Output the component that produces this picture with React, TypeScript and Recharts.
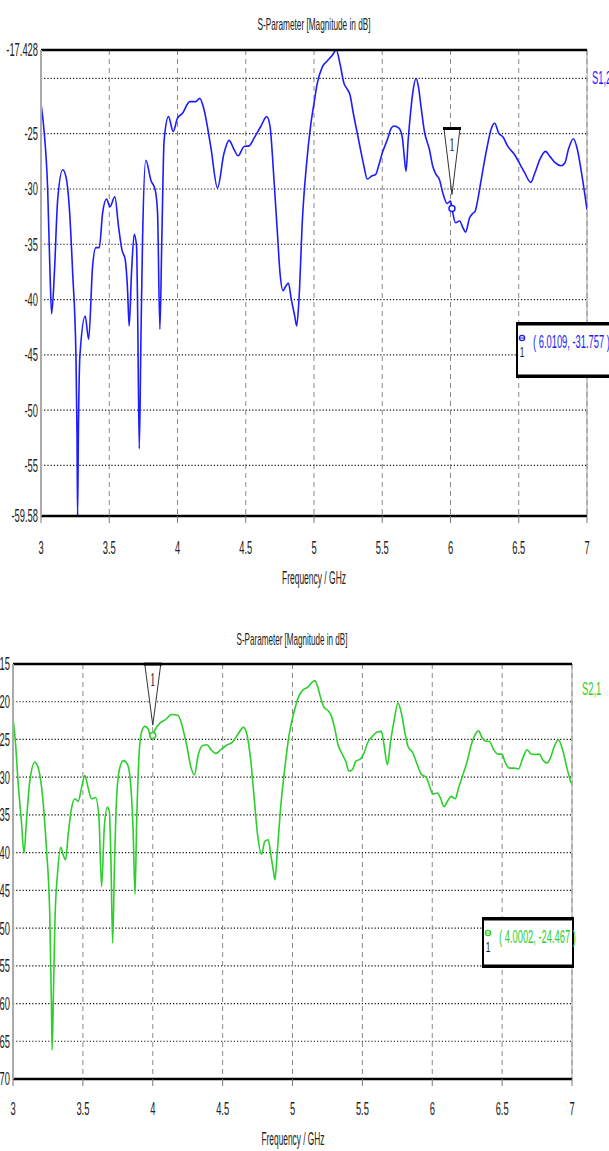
import { LineChart, Line, XAxis, YAxis, CartesianGrid, ReferenceLine, ReferenceDot } from 'recharts';

const FONT = "'Liberation Sans', Arial, sans-serif";
const BLUE = '#1c1cff';
const GREEN = '#2ccf2c';
const SQUEEZE = 0.52; // the source picture is squashed horizontally

const freqTicks = [3, 3.5, 4, 4.5, 5, 5.5, 6, 6.5, 7];

// S1,2 trace (GHz, dB)
const s12Freq = [
  3.000, 3.024, 3.049, 3.066, 3.078, 3.098, 3.122, 3.159, 3.183, 3.207, 3.232, 3.256, 3.264, 3.268, 3.274, 3.285,
  3.324, 3.349, 3.378, 3.402, 3.427, 3.451, 3.480, 3.505, 3.541, 3.568, 3.593, 3.617, 3.634, 3.646, 3.663, 3.683,
  3.700, 3.707, 3.720, 3.732, 3.744, 3.768, 3.805, 3.837, 3.854, 3.871, 3.885, 3.902, 3.934, 3.968, 4.000, 4.037,
  4.090, 4.134, 4.163, 4.195, 4.244, 4.293, 4.341, 4.378, 4.415, 4.444, 4.488, 4.524, 4.561, 4.610, 4.654, 4.678,
  4.707, 4.732, 4.751, 4.773, 4.793, 4.812, 4.834, 4.859, 4.873, 4.890, 4.915, 4.946, 4.976, 5.000, 5.024, 5.061,
  5.098, 5.134, 5.163, 5.190, 5.220, 5.240, 5.264, 5.288, 5.317, 5.341, 5.366, 5.390, 5.427, 5.451, 5.476, 5.500,
  5.537, 5.566, 5.585, 5.622, 5.646, 5.659, 5.674, 5.690, 5.707, 5.723, 5.748, 5.765, 5.784, 5.809, 5.846, 5.870,
  5.895, 5.919, 5.944, 5.975, 6.000, 6.011, 6.037, 6.066, 6.091, 6.110, 6.140, 6.164, 6.181, 6.200, 6.225, 6.262,
  6.300, 6.324, 6.353, 6.385, 6.420, 6.470, 6.517, 6.544, 6.588, 6.618, 6.654, 6.696, 6.728, 6.765, 6.810, 6.838,
  6.863, 6.900, 6.930, 6.960, 7.000,
];
const s12Mag = [
  -22.25, -24.95, -30.06, -37.6, -41.3, -37.6, -31.0, -28.26, -28.9, -31.6, -37.6, -45.1, -52.3, -59.58, -52.0, -45.1,
  -41.5, -43.6, -37.0, -35.3, -35.3, -32.2, -30.9, -31.6, -30.7, -33.4, -35.5, -36.4, -39.1, -42.4, -37.6, -34.1,
  -35.2, -40.0, -53.5, -43.6, -34.6, -27.4, -29.2, -30.1, -32.2, -42.7, -34.6, -25.6, -23.45, -24.8, -23.6, -23.15,
  -22.1, -22.1, -21.8, -22.85, -26.2, -29.9, -26.75, -25.6, -26.45, -27.0, -26.15, -26.1, -25.4, -24.35, -23.45, -24.35,
  -29.2, -34.0, -37.6, -39.2, -38.8, -38.5, -40.0, -41.5, -42.4, -40.0, -32.8, -27.66, -24.2, -22.25, -20.45, -18.95,
  -18.4, -17.9, -17.428, -18.65, -20.45, -20.9, -21.5, -23.15, -24.95, -26.45, -27.95, -29.1, -28.8, -28.7, -27.8, -26.75,
  -25.55, -24.5, -24.3, -24.5, -25.25, -26.75, -28.4, -25.55, -23.15, -21.35, -20.0, -20.75, -22.55, -24.8, -26.45, -27.95,
  -28.7, -29.16, -30.36, -31.3, -31.1, -31.76, -33.06, -32.9, -33.5, -33.9, -32.6, -32.2, -32.0, -30.96, -29.16, -26.6,
  -24.5, -24.05, -24.95, -25.3, -26.15, -26.9, -27.95, -28.55, -29.4, -28.55, -27.35, -26.6, -27.05, -27.6, -27.9, -27.65,
  -26.45, -25.45, -26.45, -28.55, -31.86,
];
const s12Ticks = [-59.58, -55, -50, -45, -40, -35, -30, -25, -20, -17.428];
const s12Unlabelled = [-20];

// S2,1 trace (GHz, dB)
const s21Freq = [
  3.000, 3.017, 3.036, 3.060, 3.079, 3.096, 3.120, 3.156, 3.184, 3.215, 3.239, 3.263, 3.275, 3.280, 3.290, 3.300,
  3.318, 3.342, 3.359, 3.376, 3.395, 3.419, 3.443, 3.467, 3.490, 3.514, 3.538, 3.562, 3.591, 3.615, 3.634, 3.653,
  3.675, 3.689, 3.701, 3.713, 3.725, 3.737, 3.761, 3.790, 3.820, 3.844, 3.859, 3.873, 3.885, 3.902, 3.921, 3.945,
  3.969, 3.988, 4.000, 4.017, 4.053, 4.089, 4.136, 4.180, 4.208, 4.244, 4.275, 4.298, 4.326, 4.357, 4.388, 4.417,
  4.452, 4.488, 4.524, 4.571, 4.607, 4.650, 4.674, 4.702, 4.726, 4.750, 4.779, 4.802, 4.826, 4.845, 4.864, 4.874,
  4.893, 4.917, 4.945, 4.976, 5.012, 5.040, 5.071, 5.107, 5.136, 5.160, 5.179, 5.202, 5.226, 5.255, 5.279, 5.302,
  5.326, 5.357, 5.381, 5.405, 5.429, 5.452, 5.488, 5.512, 5.536, 5.571, 5.607, 5.636, 5.655, 5.679, 5.702, 5.726,
  5.755, 5.779, 5.807, 5.826, 5.862, 5.893, 5.921, 5.957, 5.981, 6.005, 6.036, 6.060, 6.083, 6.112, 6.136, 6.164,
  6.188, 6.219, 6.250, 6.279, 6.307, 6.331, 6.355, 6.379, 6.410, 6.440, 6.469, 6.498, 6.521, 6.552, 6.588, 6.617,
  6.648, 6.679, 6.707, 6.736, 6.767, 6.790, 6.821, 6.845, 6.874, 6.902, 6.933, 6.964, 6.993,
];
const s21Mag = [
  -22.16, -25.26, -30.56, -35.87, -40.07, -35.87, -30.56, -28.0, -29.0, -33.2, -39.4, -48.2, -60.2, -66.15, -58.0, -49.1,
  -42.9, -39.3, -40.3, -40.95, -37.6, -34.1, -32.86, -33.2, -31.45, -29.77, -31.45, -32.86, -32.7, -35.4, -44.5, -36.75,
  -34.0, -34.5, -41.2, -52.0, -42.5, -34.5, -29.0, -27.8, -28.35, -31.45, -36.75, -45.5, -35.87, -27.0, -23.93, -23.27,
  -23.7, -24.8, -24.47, -23.7, -22.8, -22.4, -21.7, -21.8, -23.05, -25.9, -28.8, -29.7, -27.0, -25.8, -25.7, -26.36,
  -26.85, -26.36, -25.8, -25.35, -24.37, -23.4, -24.37, -27.9, -32.8, -37.6, -40.2, -38.5, -38.3, -40.3, -42.5, -43.6,
  -39.4, -33.66, -28.8, -24.37, -21.3, -19.5, -18.5, -18.1, -17.5, -17.2, -17.96, -19.5, -20.75, -21.2, -21.94, -23.5,
  -25.7, -27.0, -27.9, -29.2, -29.0, -27.9, -27.55, -26.8, -25.5, -24.6, -24.0, -23.93, -25.7, -28.35, -25.26, -22.6,
  -20.17, -21.5, -24.37, -25.9, -26.8, -28.35, -29.6, -30.0, -31.2, -32.24, -32.1, -32.8, -33.9, -33.1, -32.55, -32.86,
  -31.45, -29.7, -27.9, -25.7, -24.37, -23.84, -24.7, -25.2, -25.26, -26.36, -26.94, -26.94, -28.0, -28.8, -28.8, -28.9,
  -27.47, -26.36, -26.94, -27.0, -26.94, -27.7, -28.13, -27.47, -25.9, -25.04, -26.36, -28.8, -30.8,
];
const s21Ticks = [-70, -65, -60, -55, -50, -45, -40, -35, -30, -25, -20, -15];

const toRows = (f: number[], v: number[]) => f.map((x, i) => ({ f: x, v: v[i] }));

function FreqTick({ x, y, payload, off }: any) {
  return (
    <text transform={`translate(${x},${y + off}) scale(${SQUEEZE},1)`} textAnchor="middle"
      fontSize={18} fontFamily={FONT} fill="#222">
      {payload.value}
    </text>
  );
}

function MagTick({ x, y, payload, hidden }: any) {
  if (hidden.includes(payload.value)) return <g />;
  return (
    <text transform={`translate(${x},${y}) scale(${SQUEEZE},1)`} textAnchor="end" dy="0.36em"
      fontSize={18} fontFamily={FONT} fill="#222">
      {payload.value}
    </text>
  );
}

// marker flag "1" pointing down at the marked point
const flag = (h: number) => ({ cx, cy }: any) => (
  <g>
    <path d={`M${cx},${cy} L${cx - 8},${cy - h} L${cx + 8},${cy - h} Z`} fill="#fff" stroke="#333" strokeWidth={1} />
    <line x1={cx - 9} x2={cx + 9} y1={cy - h} y2={cy - h} stroke="#000" strokeWidth={3} />
    <text transform={`translate(${cx},${cy - h + 22}) scale(0.6,1)`} textAnchor="middle" fontSize={18}
      fontFamily="'Liberation Serif', serif" fill="#222" stroke="none">1</text>
  </g>
);

interface PanelProps {
  rows: { f: number; v: number }[];
  yTicks: number[];
  hidden: number[];
  color: string;
  width: number;
  height: number;
  margin: { top: number; right: number; bottom: number; left: number };
  yWidth: number;
  tickOff: number;
  markF: number;
  markV: number;
  flagV: number;
  flagH: number;
}

function Panel({ rows, yTicks, hidden, color, width, height, margin, yWidth, tickOff, markF, markV, flagV, flagH }: PanelProps) {
  const yMin = yTicks[0];
  const yMax = yTicks[yTicks.length - 1];
  return (
    <LineChart width={width} height={height} data={rows} margin={margin}>
      <CartesianGrid vertical={false} stroke="#111" strokeDasharray="1.2 2" strokeWidth={1.2} />
      <CartesianGrid horizontal={false} stroke="#888" strokeDasharray="5 4" />
      <XAxis dataKey="f" type="number" domain={[3, 7]} ticks={freqTicks} allowDataOverflow
        axisLine={false} tickLine={{ stroke: '#777' }} tickSize={7} tickMargin={2} height={30}
        tick={(p: any) => <FreqTick {...p} off={tickOff} />} />
      <YAxis type="number" domain={[yMin, yMax]} ticks={yTicks} allowDataOverflow width={yWidth}
        axisLine={{ stroke: '#aaa', strokeWidth: 2 }} tickLine={false} tickSize={0} tickMargin={3}
        tick={(p: any) => <MagTick {...p} hidden={hidden} />} />
      <ReferenceLine x={7} stroke="#999" strokeWidth={1} />
      <Line type="monotone" dataKey="v" stroke={color} strokeWidth={1.6} dot={false} isAnimationActive={false} />
      <ReferenceLine y={yMax} stroke="#000" strokeWidth={2.5} />
      <ReferenceLine y={yMin} stroke="#000" strokeWidth={2.5} />
      <ReferenceDot x={markF} y={markV} r={3} fill="#fff" stroke={color} strokeWidth={1.5} />
      <ReferenceDot x={markF} y={flagV} shape={flag(flagH)} />
    </LineChart>
  );
}

function MarkerBox({ x, y, w, h, color, label }: { x: number; y: number; w: number; h: number; color: string; label: string }) {
  const cy = y + 19;
  return (
    <g>
      <rect x={x} y={y} width={w} height={h} fill="#fff" stroke="#000" strokeWidth={2} />
      <line x1={x} x2={x + w} y1={y + 1} y2={y + 1} stroke="#000" strokeWidth={3} />
      <line x1={x} x2={x + w} y1={y + h - 1} y2={y + h - 1} stroke="#000" strokeWidth={3} />
      <circle cx={x + 5} cy={cy - 4} r={2.6} fill="none" stroke={color} strokeWidth={1.3} />
      <line x1={x + 3} x2={x + 7} y1={cy - 4} y2={cy - 4} stroke={color} strokeWidth={1} />
      <text transform={`translate(${x + 5},${cy + 15}) scale(0.6,1)`} textAnchor="middle" fontSize={14}
        fontFamily={FONT} fill="#222">1</text>
      <text transform={`translate(${x + 16},${cy + 6}) scale(${SQUEEZE},1)`} fontSize={18}
        fontFamily={FONT} fill={color}>{label}</text>
    </g>
  );
}

export default function App() {
  const s12Rows = toRows(s12Freq, s12Mag);
  const s21Rows = toRows(s21Freq, s21Mag);
  return (
    <div style={{ position: 'absolute', left: 0, top: 0, width: 609, height: 1151, overflow: 'hidden', background: '#fff' }}>
      <div style={{ position: 'absolute', left: 0, top: 0 }}>
        <Panel rows={s12Rows} yTicks={s12Ticks} hidden={s12Unlabelled} color={BLUE}
          width={609} height={600} margin={{ top: 50, right: 22, bottom: 54, left: 0 }} yWidth={41}
          tickOff={29} markF={6.0109} markV={-31.757} flagV={-30.5} flagH={66} />
      </div>
      <div style={{ position: 'absolute', left: 0, top: 600 }}>
        <Panel rows={s21Rows} yTicks={s21Ticks} hidden={[]} color={GREEN}
          width={609} height={551} margin={{ top: 64, right: 37, bottom: 42, left: 0 }} yWidth={13}
          tickOff={27} markF={4.0002} markV={-24.467} flagV={-23.1} flagH={61} />
      </div>
      <svg width={609} height={1151} style={{ position: 'absolute', left: 0, top: 0, pointerEvents: 'none' }}>
        <g fontFamily={FONT} fill="#222">
          <text x={314} y={30} textAnchor="middle" fontSize={17} textLength={113} lengthAdjust="spacingAndGlyphs">S-Parameter [Magnitude in dB]</text>
          <text x={314} y={584} textAnchor="middle" fontSize={18} textLength={64} lengthAdjust="spacingAndGlyphs">Frequency / GHz</text>
          <text x={292} y={645} textAnchor="middle" fontSize={17} textLength={111} lengthAdjust="spacingAndGlyphs">S-Parameter [Magnitude in dB]</text>
          <text x={293} y={1145} textAnchor="middle" fontSize={18} textLength={63} lengthAdjust="spacingAndGlyphs">Frequency / GHz</text>
        </g>
        <text transform={`translate(592,84) scale(${SQUEEZE},1)`} fontSize={18} fontFamily={FONT} fill={BLUE}>S1,2</text>
        <text transform={`translate(582,695) scale(${SQUEEZE},1)`} fontSize={18} fontFamily={FONT} fill={GREEN}>S2,1</text>
        <MarkerBox x={517} y={323} w={100} h={54} color={BLUE} label="( 6.0109, -31.757 )" />
        <MarkerBox x={483} y={918} w={90} h={49} color={GREEN} label="( 4.0002, -24.467 )" />
      </svg>
    </div>
  );
}
